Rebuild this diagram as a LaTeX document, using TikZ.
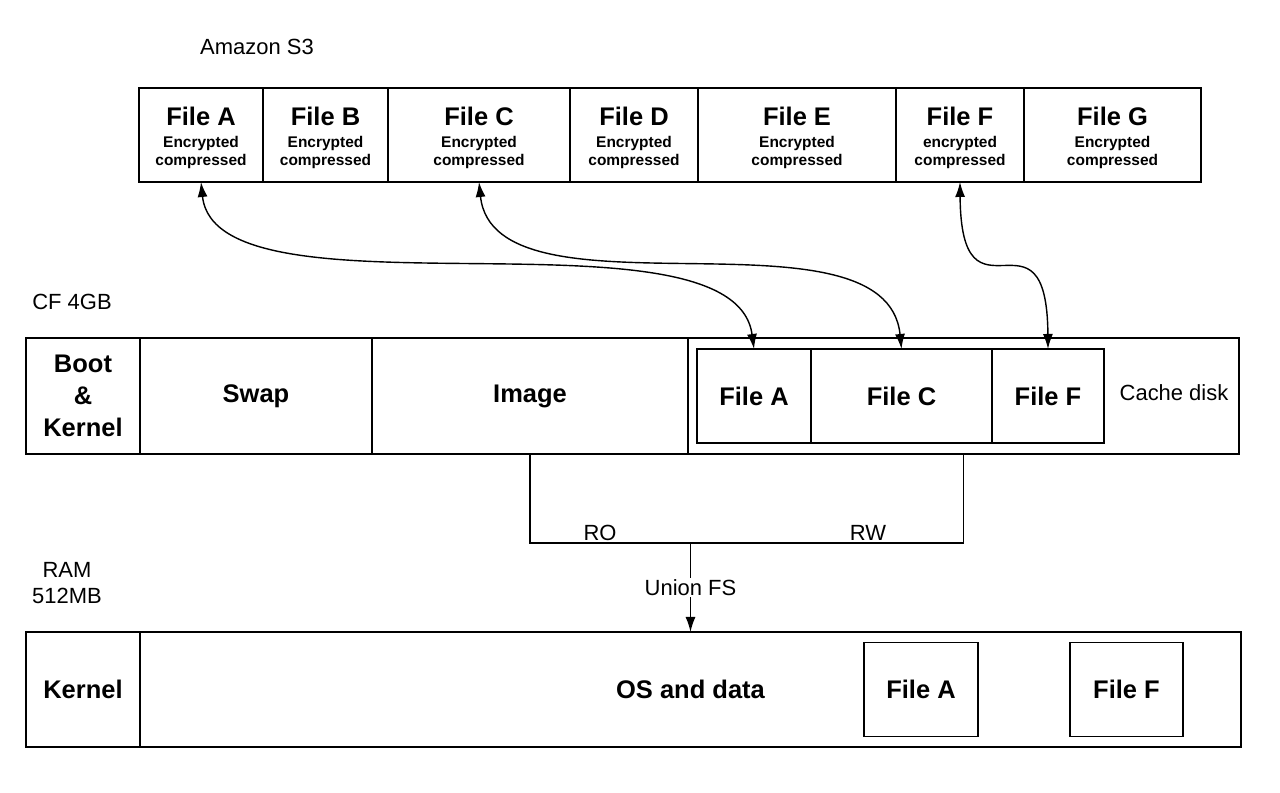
\documentclass[tikz,border=0pt]{standalone}
\usepackage{fontspec}
\setmainfont{Liberation Sans}
\usetikzlibrary{positioning,arrows.meta}

\newcommand{\bigtxt}{\fontsize{14.5}{17}\selectfont\bfseries}
\newcommand{\smalltxt}{\fontsize{8.8}{10}\selectfont\bfseries}
\newcommand{\plaintxt}{\fontsize{12.5}{15}\selectfont}
\newcommand{\sthree}[2]{{\bigtxt\rule{0pt}{14pt}File #1}\\[0.5pt]{\smalltxt #2}\\[-2pt]{\smalltxt compressed}}

\begin{document}
\begin{tikzpicture}[
                    cell/.style={rectangle, draw, line width=1pt, outer sep=0pt, inner sep=1pt, align=center},
                    s3file/.style={cell, minimum height=1.88cm},
                    cfpart/.style={cell, minimum height=2.32cm, font=\bigtxt},
                    cachefile/.style={cell, minimum height=1.88cm, font=\bigtxt},
                    rampart/.style={cell, minimum height=2.3cm, font=\bigtxt},
                    label/.style={inner sep=1pt, font=\plaintxt, align=center},
                    link/.style={line width=0.8pt, {Latex[length=3mm,width=2mm]}-{Latex[length=3mm,width=2mm]}}
                ]
                \useasboundingbox (0,0) rectangle (25.6,15.86);
                % Amazon S3
                \node[label] (s3) at (5.14,14.92) {Amazon S3};
                \node[s3file, minimum width=2.48cm, anchor=west] (s3a) at (2.78,13.16) {\sthree{A}{Encrypted}};
                \node[s3file, minimum width=2.5cm, right=0pt of s3a] (s3b) {\sthree{B}{Encrypted}};
                \node[s3file, minimum width=3.64cm, right=0pt of s3b] (s3c) {\sthree{C}{Encrypted}};
                \node[s3file, minimum width=2.56cm, right=0pt of s3c] (s3d) {\sthree{D}{Encrypted}};
                \node[s3file, minimum width=3.96cm, right=0pt of s3d] (s3e) {\sthree{E}{Encrypted}};
                \node[s3file, minimum width=2.56cm, right=0pt of s3e] (s3f) {\sthree{F}{encrypted}};
                \node[s3file, minimum width=3.54cm, right=0pt of s3f] (s3g) {\sthree{G}{Encrypted}};
                % CF card
                \node[label] (cflabel) at (1.44,9.82) {CF 4GB};
                \node[cfpart, minimum width=2.28cm, anchor=west] (boot) at (0.52,7.94) {Boot\\[1pt]\&\\[1pt]Kernel};
                \node[cfpart, minimum width=4.64cm, right=0pt of boot] (swap) {Swap};
                \node[cfpart, minimum width=6.32cm, right=0pt of swap] (image) {Image};
                \node[cfpart, minimum width=11.02cm, right=0pt of image] (cache) {};
                \node[cachefile, minimum width=2.28cm, anchor=west] (ca) at (13.94,7.94) {File A};
                \node[cachefile, minimum width=3.62cm, right=0pt of ca] (cc) {File C};
                \node[cachefile, minimum width=2.24cm, right=0pt of cc] (cf) {File F};
                \node[label] (cachelabel) at (23.48,8.0) {Cache disk};
                % RAM
                \node[label] (ramlabel) at (1.34,4.2) {RAM\\512MB};
                \node[rampart, minimum width=2.28cm, anchor=west] (kernel) at (0.52,2.07) {Kernel};
                \node[rampart, minimum width=22.02cm, right=0pt of kernel] (os) {OS and data};
                \node[cachefile, minimum width=2.28cm] (ra) at (18.42,2.07) {File A};
                \node[cachefile, minimum width=2.26cm] (rf) at (22.53,2.07) {File F};

                % S3 <-> cache disk
                \draw[link] (s3a.south) .. controls +(0.3,-2.9) and +(-0.4,3.0) .. (ca.north);
                \draw[link] (s3c.south) .. controls +(0.3,-2.9) and +(-0.3,3.0) .. (cc.north);
                \draw[link] (s3f.south) .. controls +(0.02,-3.1) and +(-0.02,3.1) .. (cf.north);

                % union of image and cache
                \draw[line width=0.8pt] (image.south) -- ++(0,-1.78) coordinate (ubar) -| (cache.south);
                \node[label, anchor=base] (ro) at (12.0,5.05) {RO};
                \node[label, anchor=base] (rw) at (17.36,5.05) {RW};
                \draw[line width=0.8pt, -{Latex[length=3mm,width=2mm]}] (os.north |- ubar) -- node[label, fill=white] (union) {Union FS} (os.north);
                \end{tikzpicture}
\end{document}
